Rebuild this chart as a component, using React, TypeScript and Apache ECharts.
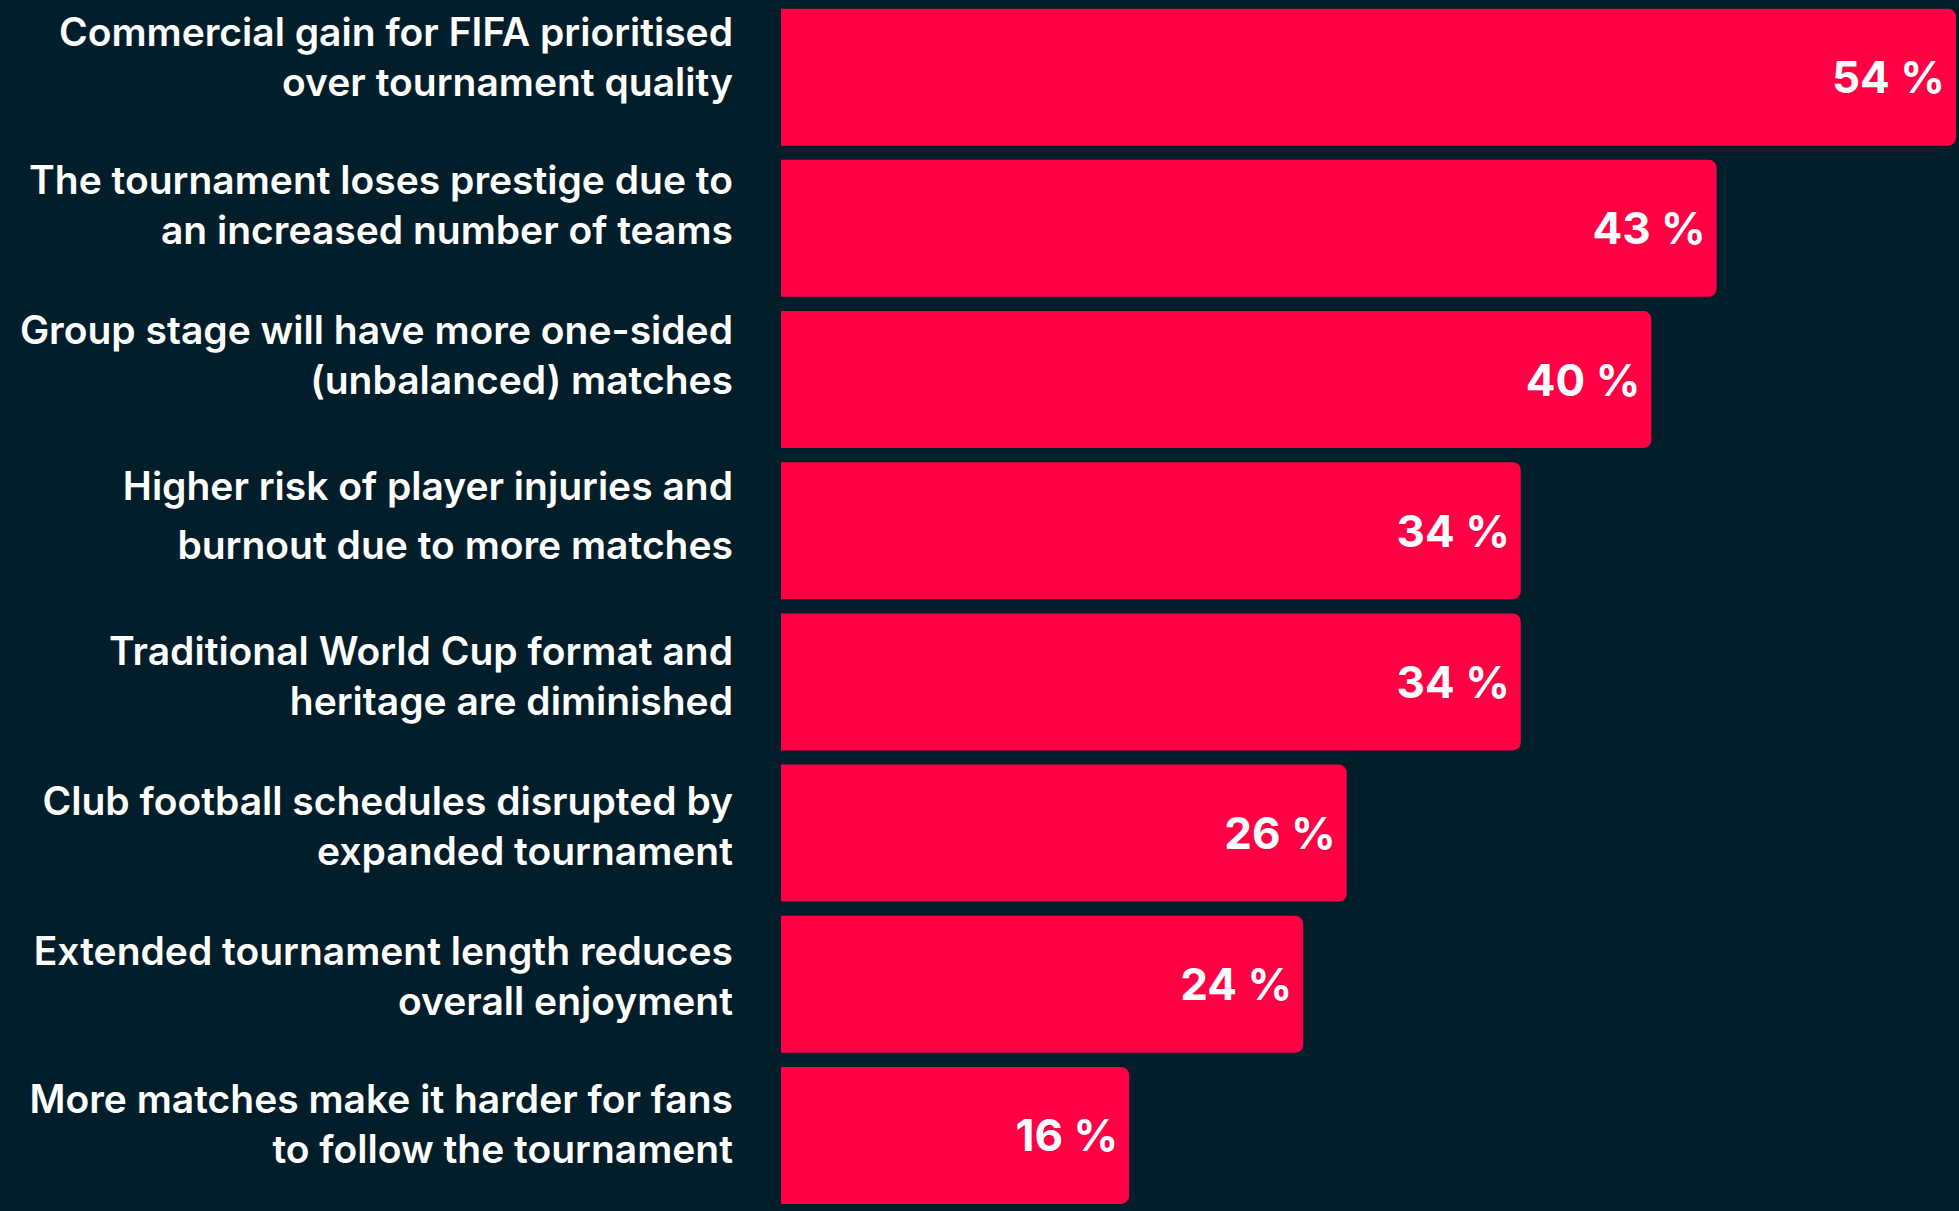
import React, { useEffect, useRef } from "react";
import * as echarts from "echarts";

const categories = [
  "Commercial gain for FIFA prioritised\nover tournament quality",
  "The tournament loses prestige due to\nan increased number of teams",
  "Group stage will have more one-sided\n(unbalanced) matches",
  "Higher risk of player injuries and\nburnout due to more matches",
  "Traditional World Cup format and\nheritage are diminished",
  "Club football schedules disrupted by\nexpanded tournament",
  "Extended tournament length reduces\noverall enjoyment",
  "More matches make it harder for fans\nto follow the tournament",
];
const values = [54, 43, 40, 34, 34, 26, 24, 16];

// label layout styling (vertical nudge & line height per label)
const labelShift = [-21, -24, -25, -16, -6, -8, -9, -12];
const labelLineHeight = [50, 50, 50, 59, 50, 50, 50, 50];

const BG = "#021E2A";
const RED = "#FF0044";
const FONT = "Inter, 'Noto Sans', sans-serif";

export default function App() {
  const ref = useRef<HTMLDivElement>(null);
  useEffect(() => {
    if (!ref.current) return;
    const chart = echarts.init(ref.current, undefined, { renderer: "svg" });
    chart.setOption({
      animation: false,
      backgroundColor: BG,
      grid: { left: 781, width: 1175, top: 1.6, height: 1217.7, containLabel: false },
      xAxis: { type: "value", min: 0, max: 54, show: false },
      yAxis: {
        type: "category",
        data: categories,
        inverse: true,
        axisLine: { show: false },
        axisTick: { show: false },
        axisLabel: { show: false },
        splitLine: { show: false },
      },
      series: [
        {
          type: "bar",
          data: values,
          barWidth: 137,
          itemStyle: { color: RED, borderRadius: [0, 8, 8, 0] },
          label: {
            show: true,
            position: "insideRight",
            distance: 11,
            formatter: (p: any) => `${p.value} %`,
            color: "#ffffff",
            fontFamily: FONT,
            fontWeight: 700,
            fontSize: 44,
          },
        },
        {
          type: "custom",
          data: categories.map((c, i) => [0, i]),
          clip: false,
          renderItem: (params: any, api: any) => {
            const i = params.dataIndex;
            const pt = api.coord([0, i]);
            return {
              type: "text",
              x: pt[0] - 48,
              y: pt[1] + labelShift[i],
              style: {
                text: categories[i],
                fill: "#ffffff",
                fontFamily: FONT,
                fontWeight: 600,
                fontSize: 39,
                lineHeight: labelLineHeight[i],
                align: "right",
                verticalAlign: "middle",
              },
            };
          },
        },
      ],
    });
    return () => chart.dispose();
  }, []);
  return (
    <div
      ref={ref}
      style={{ position: "absolute", left: 0, top: 0, width: 1959, height: 1211 }}
    />
  );
}
